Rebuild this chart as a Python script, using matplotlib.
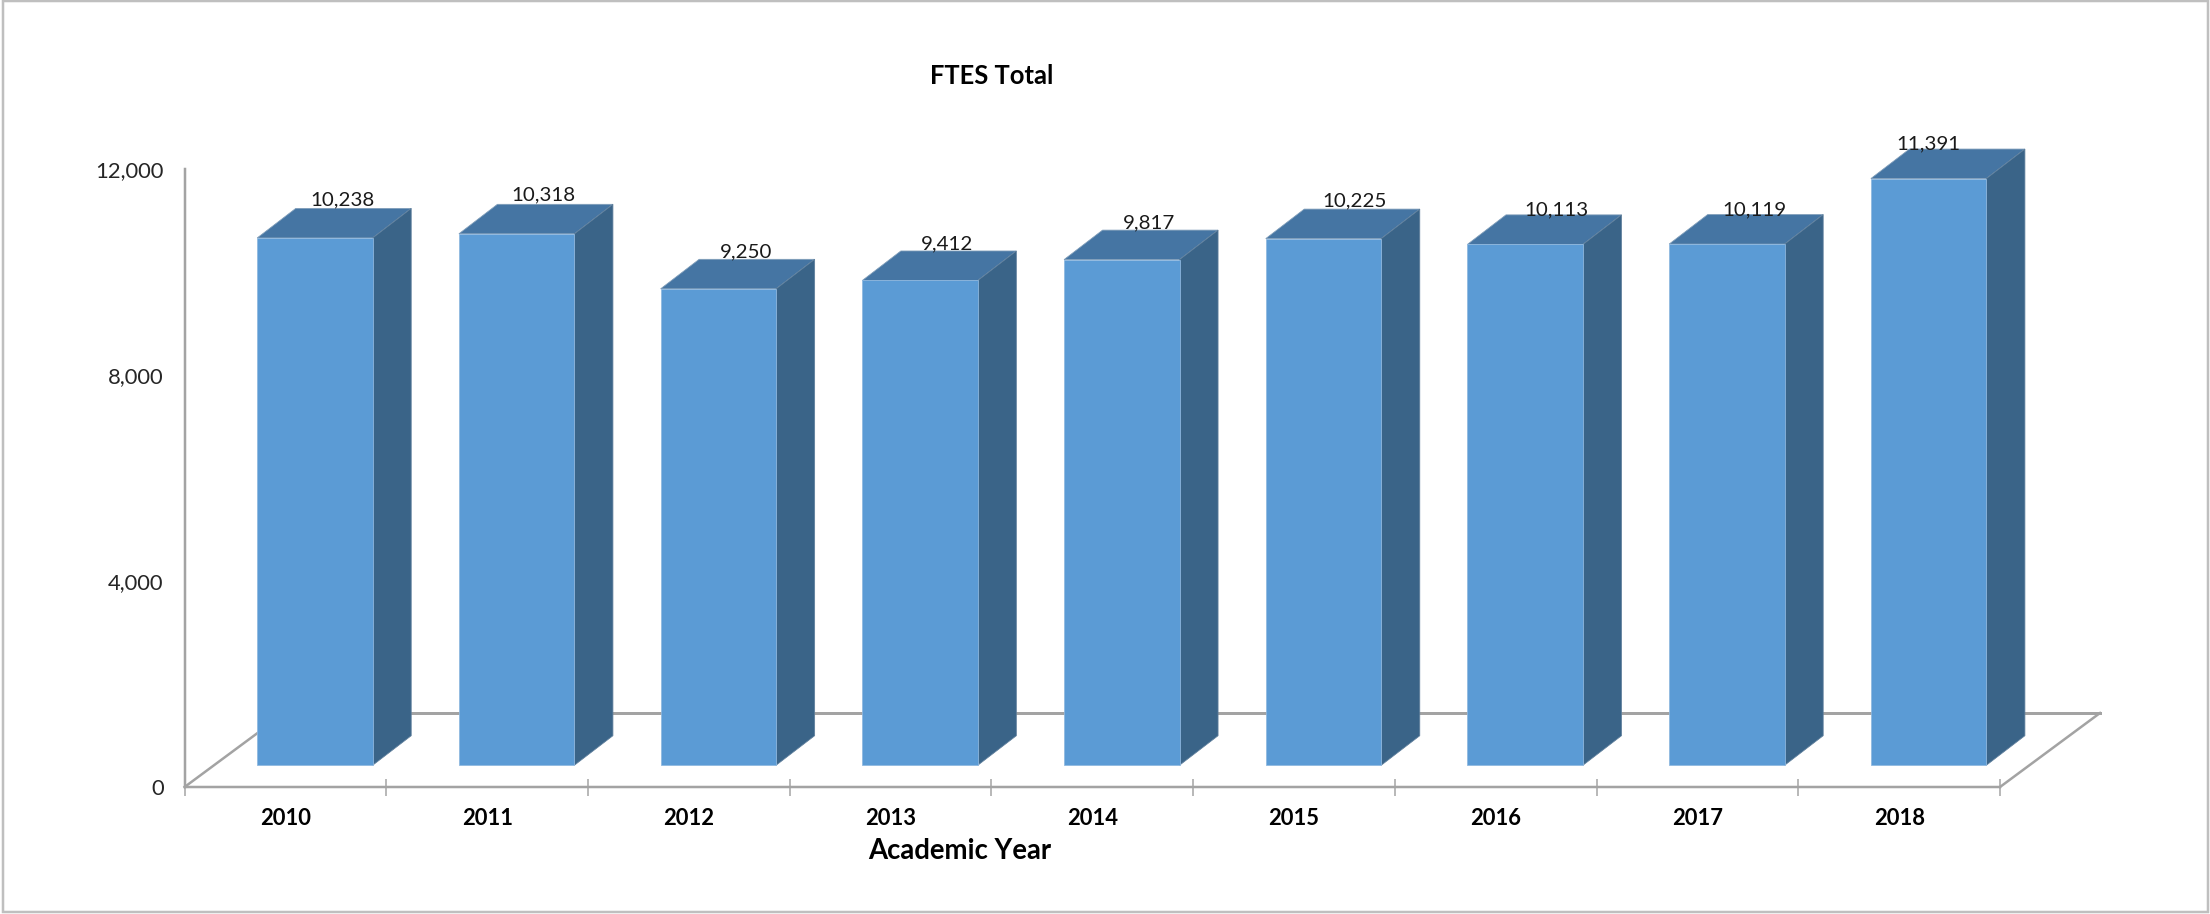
import matplotlib
matplotlib.use("Agg")
import matplotlib.pyplot as plt
from matplotlib.patches import Polygon, Rectangle

# Data
years = ["2010", "2011", "2012", "2013", "2014", "2015", "2016", "2017", "2018"]
ftes = [10238, 10318, 9250, 9412, 9817, 10225, 10113, 10119, 11391]
y_ticks = [0, 4000, 8000, 12000]
title = "FTES Total"
x_title = "Academic Year"

# Layout (pixels of the 2210x914 canvas)
W, H = 2210, 914
AX_L, AX_R, AX_T, AX_B = 184.6, 2000.0, 169.0, 787.0
CAT_PX = (AX_R - AX_L) / len(years)
VAL_PX = (AX_B - AX_T) / 12000
BAR_W = 115.5 / CAT_PX
BAR_SHIFT = 29.5 / CAT_PX
BASE = 21.8 / VAL_PX
DEPTH_X = 38.5 / CAT_PX
DEPTH_Y = 29.5 / VAL_PX
FLOOR_X = 100 / CAT_PX
FLOOR_Y = 74 / VAL_PX
# hand-placed label offsets from the back top edge of each bar (px)
label_dx = [8, 8, 8, 8, 8, 12, 12, 8, -19]
label_dy = [9, 9, 7, 7, 7, 8, 5, 5, 5]

FRONT, TOP, SIDE = "#5B9BD5", "#4575A3", "#3A6488"
LINE, EDGE = "#A3A3A3", "#8FB8DF"
FONT = "Lato"
px = 72 / 100

plt.rcParams["font.family"] = [FONT, "DejaVu Sans"]
fig = plt.figure(figsize=(W / 100, H / 100), dpi=100)
fig.add_artist(Rectangle((3 / W, 2 / H), (W - 5) / W, (H - 3) / H, transform=fig.transFigure,
                         fill=False, ec="#BFBFBF", lw=2.5 * px))
ax = fig.add_axes([AX_L / W, 1 - AX_B / H, (AX_R - AX_L) / W, (AX_B - AX_T) / H])
ax.set_xlim(0, len(years))
ax.set_ylim(0, 12000)
ax.patch.set_alpha(0)

# floor
n = len(years)
ax.plot([0, FLOOR_X], [0, FLOOR_Y], color=LINE, lw=2.5 * px, zorder=1, clip_on=False)
ax.plot([FLOOR_X, n + FLOOR_X], [FLOOR_Y, FLOOR_Y], color=LINE, lw=3 * px, zorder=1, clip_on=False)
ax.plot([n, n + FLOOR_X], [0, FLOOR_Y], color=LINE, lw=2.5 * px, zorder=1, clip_on=False)

# bars
ticks_mid = [i + 0.5 for i in range(n)]
centers = [m + BAR_SHIFT for m in ticks_mid]
ax.bar(centers, ftes, width=BAR_W, bottom=BASE, color=FRONT, edgecolor=EDGE,
       linewidth=0.8 * px, zorder=3, clip_on=False)
for c, v, dx, dy in zip(centers, ftes, label_dx, label_dy):
    l, r, t = c - BAR_W / 2, c + BAR_W / 2, v + BASE
    ax.add_patch(Polygon([(l, t), (r, t), (r + DEPTH_X, t + DEPTH_Y), (l + DEPTH_X, t + DEPTH_Y)],
                         fc=TOP, ec="#7F9DB9", lw=0.8 * px, zorder=2, clip_on=False))
    ax.add_patch(Polygon([(r, BASE), (r + DEPTH_X, BASE + DEPTH_Y), (r + DEPTH_X, t + DEPTH_Y), (r, t)],
                         fc=SIDE, ec="#5F7F9C", lw=0.8 * px, zorder=2, clip_on=False))
    ax.annotate(f"{v:,}", (c + DEPTH_X / 2, t + DEPTH_Y), xytext=(dx * px, dy * px),
                textcoords="offset points", ha="center", va="center",
                fontsize=20.5 * px, color="#1A1A1A", zorder=5, annotation_clip=False)

# axes
for s in ("top", "right"):
    ax.spines[s].set_visible(False)
for s in ("left", "bottom"):
    ax.spines[s].set_color(LINE)
    ax.spines[s].set_linewidth(2.5 * px)
ax.set_yticks(y_ticks)
ax.set_yticklabels([f"{v:,}" for v in y_ticks], fontsize=22 * px, color="#262626")
ax.tick_params(axis="y", length=0, pad=21 * px)
ax.set_xticks(range(n + 1))
ax.set_xticklabels([])
ax.tick_params(axis="x", which="major", direction="inout", length=17 * px, width=1.5 * px, color=LINE)
ax.set_xticks(ticks_mid, minor=True)
ax.set_xticklabels(years, minor=True, fontsize=22 * px, fontweight="bold", color="black")
ax.tick_params(axis="x", which="minor", length=0, pad=21 * px)

fig.text(960 / W, 1 - 851 / H, x_title, ha="center", va="center", fontsize=27.5 * px,
         fontweight="bold", color="black")
fig.text(992 / W, 1 - 76 / H, title, ha="center", va="center", fontsize=25.5 * px,
         fontweight="bold", color="black")

fig.savefig("out.png", dpi=100)
